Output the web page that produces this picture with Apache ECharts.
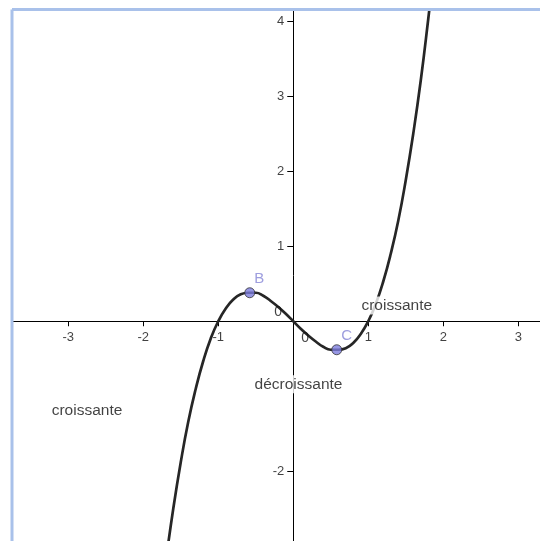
<!DOCTYPE html>
<html>
<head>
<meta charset="utf-8">
<script src="https://cdn.jsdelivr.net/npm/echarts@6/dist/echarts.min.js"></script>
<style>
  html, body { margin: 0; padding: 0; background: #fff; }
  #chart { width: 540px; height: 541px; }
</style>
</head>
<body>
<div id="chart"></div>
<script>
// courbe (x, y)
const curveX = [-1.75, -1.7, -1.6, -1.5, -1.4, -1.3, -1.2, -1.1, -1.0, -0.9, -0.8, -0.7, -0.6, -0.5, -0.4, -0.3, -0.2, -0.1,
  0, 0.1, 0.2, 0.3, 0.4, 0.5, 0.6, 0.7, 0.8, 0.9, 1.0, 1.1, 1.2, 1.3, 1.4, 1.5, 1.6, 1.7, 1.8, 1.85];
const curveY = [-3.61, -3.21, -2.5, -1.88, -1.34, -0.9, -0.53, -0.23, 0, 0.17, 0.29, 0.36, 0.38, 0.38, 0.34, 0.27, 0.19, 0.1,
  0, -0.1, -0.19, -0.27, -0.34, -0.38, -0.38, -0.36, -0.29, -0.17, 0, 0.23, 0.53, 0.9, 1.34, 1.88, 2.5, 3.21, 4.03, 4.48];
// points B et C
const pointNames = ["B", "C"];
const pointX = [-0.58, 0.58];
const pointY = [0.38, -0.38];
// graduations
const xTicks = [-3, -2, -1, 1, 2, 3];
const yTicks = [-3, -2, 1, 2, 3, 4];
// textes (mots)
const wordTexts = ["croissante", "décroissante", "croissante"];
const wordX = [1.38, 0.07, -2.75];
const wordY = [0.21, -0.84, -1.19];
// les deux "0" pres de l'origine
const zeroTexts = ["0", "0"];
const zeroX = [-0.2, 0.16];
const zeroY = [0.12, -0.22];

const myChart = echarts.init(document.getElementById("chart"));

let curveData = curveX.map((x, i) => [x, curveY[i]]);
let pointData = pointX.map((x, i) => ({ name: pointNames[i], value: [x, pointY[i]] }));
let wordData = wordTexts.map((t, i) => ({ name: t, value: [wordX[i], wordY[i]] }));
let zeroData = zeroTexts.map((t, i) => ({ name: t, value: [zeroX[i], zeroY[i]] }));
// etiquettes des graduations posees sur les axes
let xLabelData = xTicks.map(v => ({ name: String(v), value: [v, 0] }));
let yLabelData = yTicks.map(v => ({ name: String(v), value: [0, v] }));

const font = "'Liberation Sans', Arial, sans-serif";

let option = {
  animation: false,
  backgroundColor: "#fff",
  grid: {
    left: 12,
    right: 0,
    top: 10,
    bottom: 0,
    outerBoundsMode: "none",
    containLabel: false,
    borderWidth: 0
  },
  graphic: [
    // bordure bleue en haut et a gauche
    { type: "line", shape: { x1: 12, y1: 9.5, x2: 540, y2: 9.5 }, style: { stroke: "#a9c1ea", lineWidth: 3 }, z: 100 },
    { type: "line", shape: { x1: 12, y1: 9.5, x2: 12, y2: 541 }, style: { stroke: "#a9c1ea", lineWidth: 3 }, z: 100 }
  ],
  xAxis: {
    type: "value",
    min: -3.75,
    max: 3.29,
    axisLine: { show: true, onZero: true, lineStyle: { color: "#000", width: 1 } },
    axisTick: { show: true, length: 5, customValues: xTicks, lineStyle: { color: "#000" } },
    axisLabel: { show: false },
    splitLine: { show: false }
  },
  yAxis: {
    type: "value",
    min: -2.93,
    max: 4.15,
    axisLine: { show: true, onZero: true, lineStyle: { color: "#000", width: 1 } },
    axisTick: { show: true, length: 6, customValues: yTicks, lineStyle: { color: "#000" } },
    axisLabel: { show: false },
    splitLine: { show: false }
  },
  series: [
    {
      type: "line",
      data: curveData,
      smooth: true,
      symbol: "none",
      clip: true,
      lineStyle: { color: "#262626", width: 2.7 },
      z: 3
    },
    {
      type: "scatter",
      data: pointData,
      symbolSize: 10,
      itemStyle: { color: "#7c7cdc", borderColor: "#333", borderWidth: 1 },
      label: {
        show: true,
        formatter: "{b}",
        position: [10, -16],
        color: "#8585d6",
        fontSize: 15,
        fontFamily: font
      },
      z: 5
    },
    {
      type: "scatter",
      data: wordData,
      symbolSize: 0,
      silent: true,
      label: {
        show: true,
        formatter: "{b}",
        position: "inside",
        color: "#111",
        fontSize: 15.5,
        fontFamily: font,
        backgroundColor: "#fff",
        padding: [1, 0]
      },
      z: 6
    },
    {
      type: "scatter",
      data: zeroData,
      symbolSize: 0,
      silent: true,
      label: { show: true, formatter: "{b}", position: "inside", color: "#111", fontSize: 14, fontFamily: font },
      z: 6
    },
    {
      type: "scatter",
      data: xLabelData,
      symbolSize: 0,
      silent: true,
      label: { show: true, formatter: "{b}", position: "bottom", distance: 10, color: "#111", fontSize: 13, fontFamily: font },
      z: 6
    },
    {
      type: "scatter",
      data: yLabelData,
      symbolSize: 0,
      silent: true,
      label: { show: true, formatter: "{b}", position: "left", distance: 9, color: "#111", fontSize: 13, fontFamily: font },
      z: 6
    }
  ]
};
option && myChart.setOption(option);
</script>
</body>
</html>
